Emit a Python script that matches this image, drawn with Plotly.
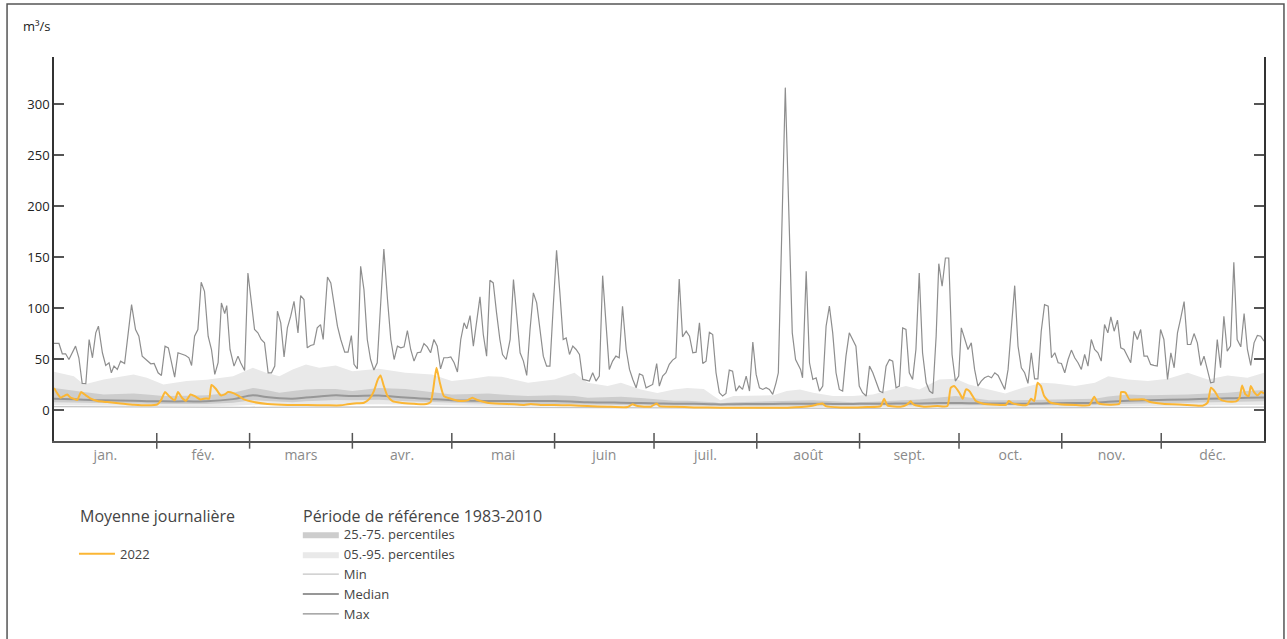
import plotly.graph_objects as go

# ---------------- data ----------------
month_names = ["jan.", "fév.", "mars", "avr.", "mai", "juin", "juil.", "août", "sept.", "oct.", "nov.", "déc."]
month_lengths = [31, 28, 31, 30, 31, 30, 31, 31, 30, 31, 30, 31]

# reference period 1983-2010 (day of year)
band_days = [0, 6, 9, 15, 24, 28, 33, 40, 46, 54, 60, 64, 68, 72, 76, 80, 85, 90, 98, 106, 114, 120,
             126, 131, 135, 143, 151, 157, 161, 167, 171, 177, 182, 187, 191, 196, 199, 201, 205, 211,
             217, 221, 225, 229, 235, 241, 247, 251, 257, 261, 267, 272, 276, 282, 287, 292, 298, 302,
             308, 314, 318, 324, 330, 336, 342, 348, 354, 360, 365]
p95 = [37.8, 33.5, 25.4, 30.3, 35.2, 32, 25.4, 28.7, 30, 33.5, 41.7, 36.8, 33.5, 40, 45, 41.7, 44, 38.4,
       40.7, 36.8, 35.2, 28.7, 31, 33.5, 33, 27, 30.3, 36.8, 27, 23.8, 27, 20.5, 17, 20.5, 22, 21, 14, 10,
       14, 14, 14.7, 18.9, 20.5, 17.3, 14, 14, 15.6, 18.9, 23.8, 20.5, 30.3, 31, 25.4, 20.5, 16.6, 22, 27,
       26.4, 23.8, 27, 33.5, 30.3, 28.7, 31, 36.8, 30.3, 34.2, 32, 36.8]
p75 = [22, 19, 18, 15.6, 16.6, 15.5, 14, 14.2, 14.7, 17.3, 22, 20, 17.3, 19, 20.5, 21, 21, 19, 22, 21, 18,
       15.6, 16, 16.6, 15.5, 14, 14.7, 14, 12.4, 12.8, 13.4, 12, 10.7, 9.5, 9.5, 9, 8, 7, 8, 8.5, 9, 9, 9.5,
       9.8, 9, 8, 8.5, 9, 10, 10.7, 12.5, 14, 12.5, 10, 9.8, 9.8, 10.3, 10.7, 11, 11.4, 13.5, 15.6, 14.7,
       15, 15.6, 16.5, 17.3, 19, 19.9]
median = [11.4, 10.8, 10.5, 9.8, 9.3, 9, 8.8, 8.8, 8.8, 11, 14.7, 13, 11.8, 11.4, 12.5, 13.5, 14.7, 14,
          14.5, 12.5, 11, 10, 9.5, 9.1, 9.1, 9.1, 9.1, 8.5, 8, 7.7, 7.5, 7.1, 6.8, 6.5, 6.5, 6.3, 6, 5.8, 6,
          6.2, 6.3, 6.5, 6.5, 6.5, 6.3, 6.3, 6.5, 6.5, 6.8, 6.8, 7.2, 7.2, 7, 6.8, 6.6, 6.5, 6.8, 7, 7.3,
          7.5, 8.5, 9.5, 10, 10.3, 10.7, 11.3, 11.8, 12.3, 12.6]
p25 = [8, 7.6, 7.4, 7, 6.6, 6.4, 6.2, 6.2, 6.2, 7.5, 10, 9.2, 8.3, 8, 8.8, 9.5, 10.2, 10, 10.5, 9, 8, 7.2,
       6.8, 6.5, 6.5, 6.4, 6.3, 6, 5.6, 5.4, 5.2, 5, 4.8, 4.6, 4.5, 4.4, 4.2, 4, 4.2, 4.3, 4.4, 4.5, 4.5,
       4.5, 4.4, 4.4, 4.5, 4.6, 4.8, 4.8, 5, 5, 4.9, 4.7, 4.6, 4.5, 4.7, 4.9, 5.1, 5.2, 6, 6.6, 7, 7.2,
       7.5, 7.9, 8.2, 8.6, 8.8]
p05 = [5, 4.8, 4.7, 4.5, 4.2, 4.1, 4, 4, 4, 4.5, 5.5, 5.3, 5, 4.9, 5.2, 5.5, 5.8, 5.8, 6, 5.5, 5, 4.6,
       4.4, 4.2, 4.2, 4.1, 4, 3.8, 3.6, 3.5, 3.4, 3.3, 3.2, 3.1, 3, 3, 2.9, 2.8, 2.9, 2.9, 3, 3, 3, 3, 3,
       3, 3, 3.1, 3.2, 3.2, 3.3, 3.3, 3.2, 3.1, 3.1, 3, 3.1, 3.2, 3.3, 3.4, 3.8, 4.1, 4.3, 4.4, 4.6, 4.8,
       5, 5.2, 5.3]

min_days = [0, 15, 31, 46, 59, 75, 90, 105, 120, 135, 151, 166, 181, 196, 212, 227, 243, 258, 273, 288,
            304, 319, 334, 349, 365]
min_vals = [3.6, 3.3, 3.0, 2.8, 3.0, 3.2, 3.4, 3.3, 3.0, 2.8, 2.6, 2.4, 2.2, 2.0, 1.9, 1.9, 1.9, 2.0, 2.1,
            2.1, 2.2, 2.4, 2.7, 3.0, 3.2]

max_days = [0.0, 1.5, 2.5, 3.5, 4.5, 5.5, 6.5, 7.5, 8.5, 9.6, 10.6, 11.6, 12.6, 13.4, 14.6, 15.6, 16.6,
            17.3, 18.1, 19.1, 20.1, 21.3, 22.3, 23.4, 24.6, 25.6, 26.6, 27.7, 29.2, 30.2, 31.4, 32.4, 33.5,
            34.5, 35.4, 36.4, 37.4, 38.7, 39.7, 40.7, 41.5, 42.4, 43.4, 44.4, 45.4, 46.5, 47.5, 48.5, 49.5,
            50.5, 51.5, 52.1, 53.1, 54.3, 55.5, 56.3, 57.5, 58.5, 59.5, 60.5, 61.5, 62.5, 63.5, 64.6, 65.6,
            66.6, 67.4, 68.4, 69.4, 70.4, 71.4, 72.4, 73.6, 74.4, 75.4, 76.4, 77.4, 78.4, 79.4, 80.4, 81.2,
            82.5, 83.5, 84.5, 85.5, 86.5, 87.7, 88.7, 89.7,
            90.5, 91.5, 92.5, 93.5, 94.5, 95.5, 96.5, 97.5, 98.5, 99.5, 100.6, 101.6, 102.6, 103.6, 104.6,
            105.6, 106.6, 107.6, 108.6, 109.6, 110.6, 111.6, 112.6, 113.6, 114.6, 115.6, 116.6, 117.6,
            118.7, 119.7, 120.7, 121.7, 122.7, 123.7, 124.5, 125.5, 126.5, 127.5, 128.5, 129.5, 130.5,
            131.5, 132.5, 133.5, 134.5, 135.3, 136.4, 137.6, 138.6, 139.6, 140.6, 141.6, 142.6, 143.6,
            144.6, 145.6, 146.6, 147.6, 148.6, 149.6, 150.6, 151.6, 152.6, 153.6, 154.5, 155.5, 156.5,
            157.5, 158.5, 159.5, 160.5, 161.5, 162.5, 163.5, 164.5, 165.5, 166.5, 167.5, 168.5, 169.5,
            170.5, 171.5, 172.6, 173.6, 174.6, 175.6, 176.6, 177.6, 178.6, 179.6, 180.6,
            181.8, 182.6, 183.6, 184.6, 185.6, 186.6, 187.6, 188.6, 189.6, 190.7, 191.7, 192.7, 193.7,
            194.7, 195.7, 196.7, 197.7, 198.7, 199.7, 200.7, 201.7, 202.7, 203.7, 204.7, 205.7, 206.7,
            207.7, 208.8, 209.8, 210.8, 211.8, 212.8, 213.8, 214.8, 215.8, 216.8, 217.8, 218.5, 220.6,
            222.7, 223.7, 225.2, 225.8, 226.9, 227.9, 228.9, 229.9, 230.9, 231.9, 232.9, 233.9, 234.9,
            235.9, 236.9, 237.9, 238.9, 239.9, 240.9, 241.9, 242.9, 243.9, 245.0, 246.0, 247.0, 248.0,
            249.0, 250.0, 251.0, 252.0, 253.0, 254.0, 255.0, 256.0, 257.0, 258.0, 259.0, 260.0, 261.0,
            262.0, 263.1, 264.1, 265.1, 266.1, 266.9, 267.9, 268.9, 269.9, 270.9, 271.9,
            272.9, 273.7, 274.7, 275.7, 276.7, 277.7, 278.7, 279.7, 280.7, 281.8, 282.8, 283.8, 284.8,
            285.8, 286.8, 287.8, 288.8, 289.8, 290.8, 291.8, 292.8, 293.8, 294.8, 295.8, 296.8, 297.8,
            298.8, 299.9, 300.9, 301.9, 302.9, 303.9, 304.9, 305.9, 306.9, 307.9, 308.9, 309.9, 310.9,
            311.9, 312.9, 313.9, 314.9, 315.9, 316.9, 317.9, 318.8, 319.8, 320.8, 321.8, 322.8, 323.8,
            324.8, 325.8, 326.8, 327.8, 328.8, 329.8, 330.8, 331.8, 332.8, 333.8, 334.8, 335.9, 336.9,
            337.9, 338.9, 339.9, 340.9, 341.9, 342.9, 343.9, 344.9, 345.9, 346.9, 347.9, 348.9, 349.9,
            350.9, 351.9, 352.9, 353.9, 354.9, 355.9, 356.9, 358.0, 359.0, 360.0, 361.0, 362.0, 363.0,
            364.0, 365.0]
max_vals = [65.5, 65.5, 55.4, 55.4, 49.8, 56.4, 62.9, 51.5, 26.4, 26.1, 69.4, 51.5, 75.9, 82.4, 56.4, 44.0,
            46.6, 36.8, 43.3, 40.1, 48.2, 45.9, 75.9, 103.6, 79.2, 72.6, 53.1, 49.8, 45.6, 45.9, 36.8, 34.2,
            62.9, 61.2, 46.6, 32.6, 56.4, 54.7, 53.7, 51.5, 44.0, 72.6, 79.2, 125.4, 116.6, 72.6, 59.6, 35.2,
            46.6, 105.2, 94.8, 102.6, 59.6, 43.3, 53.1, 46.6, 39.1, 134.5, 108.5, 79.2, 75.9, 69.4, 66.1,
            36.8, 36.8, 43.3, 97.1, 85.7, 52.4, 80.8, 92.2, 106.8, 75.9, 112.4, 108.5, 61.2, 63.5, 64.5,
            80.8, 84.0, 69.4, 130.6, 124.8, 105.2, 82.4, 69.4, 57.0, 57.0, 73.3,
            45.0, 40.7, 141.0, 118.2, 69.4, 49.8, 39.4, 46.6, 102.0, 158.0, 108.5, 69.4, 49.8, 62.9, 61.2,
            62.2, 78.2, 59.6, 48.2, 56.4, 57.0, 65.5, 62.2, 56.4, 69.4, 62.9, 40.7, 51.5, 51.5, 52.4, 46.6,
            37.5, 69.4, 85.7, 79.8, 92.8, 62.9, 88.9, 111.1, 74.3, 53.1, 127.4, 124.8, 95.4, 69.4, 54.7,
            49.8, 69.4, 128.0, 92.2, 56.4, 48.2, 34.2, 79.2, 115.0, 105.2, 75.9, 53.1, 43.3, 43.3, 102.0,
            156.7, 115.0, 69.4, 71.0, 54.7, 62.9, 59.6, 54.7, 30.3, 29.6, 28.7, 36.8, 28.7, 33.6, 131.9,
            85.7, 40.1, 48.2, 53.1, 51.5, 102.0, 59.6, 40.1, 30.3, 22.1, 35.8, 34.2, 22.1, 23.8, 25.4,
            45.9, 23.8, 33.6, 36.8, 45.0, 49.2, 51.5, 128.7, 72.0, 77.5, 72.6, 56.4, 57.0, 85.7, 45.9, 48.2,
            76.5, 74.3, 36.8, 17.3, 14.0, 16.6, 39.4, 38.4, 18.9, 23.8, 20.5, 33.6, 18.9, 66.8, 35.2, 22.1,
            20.5, 22.1, 20.5, 15.6, 27.0, 36.8, 316.0, 75.9, 49.8, 40.1, 31.9, 136.2, 46.6, 30.3, 31.9,
            18.9, 23.8, 82.4, 102.0, 75.9, 36.8, 20.5, 18.9, 53.1, 75.9, 69.4, 62.9, 23.8, 17.3, 14.0, 43.3,
            36.8, 28.7, 18.9, 17.3, 43.3, 49.8, 48.2, 22.1, 23.8, 80.8, 79.2, 36.8, 30.3, 59.6, 134.5, 56.4,
            27.0, 18.9, 16.6, 72.6, 143.6, 121.5, 149.2, 149.2, 54.7, 28.7,
            33.6, 80.8, 71.0, 59.6, 66.1, 40.1, 23.8, 28.7, 31.9, 33.6, 31.9, 36.8, 34.2, 27.0, 20.5, 40.1,
            82.4, 122.1, 62.9, 41.7, 36.8, 26.4, 56.4, 30.9, 30.9, 77.5, 103.6, 102.0, 51.5, 56.4, 46.6,
            45.9, 36.8, 49.8, 59.0, 51.5, 46.6, 40.1, 54.7, 43.3, 69.4, 59.6, 56.4, 48.2, 84.0, 75.9, 91.5,
            77.5, 88.3, 61.2, 59.6, 53.1, 46.6, 77.5, 69.4, 79.2, 53.1, 53.1, 45.0, 44.0, 43.3, 79.2, 69.4,
            30.3, 56.4, 41.7, 75.9, 90.6, 106.5, 64.5, 64.5, 75.2, 66.1, 44.0, 53.1, 40.1, 27.0, 27.7, 69.4,
            41.7, 92.2, 58.0, 62.9, 145.0, 69.4, 62.2, 94.8, 59.6, 44.0, 66.1, 73.3, 72.6, 67.8]

# daily mean 2022
y2022_days = [0, 1, 2, 3, 4, 5, 6, 7, 8.2, 9.6, 11.1, 13.1, 16.1, 20.1, 24.1, 28.2, 31.2, 32.4, 33.5, 34.7,
              36.4, 37.4, 38.6, 39.8, 41.2, 42.7, 44.2, 45.8, 46.8, 47.5, 48.8, 50.3, 51.5, 52.5, 54.3,
              55.8, 57.3, 60.3, 64.4, 70.4, 76.4, 82.5, 86.5, 88.5,
              90.5, 93.5, 95, 96.5, 97.7, 98.5, 99.5, 100.6, 102.1, 104.6, 108.6, 111.6, 113.6, 114.8,
              115.4, 116.4, 117.6, 119.7, 122.7, 124.7, 126.2, 127.7, 130.7, 134.7, 138.8, 141.8, 143.8,
              146.8, 150.8, 155.9, 160.9, 166.9, 173, 174.5, 176, 180,
              181.8, 182.6, 187, 193.1, 201.1, 211.2, 221.2, 228.3, 230.3, 231.8, 232.8, 237.3, 242.3,
              245.4, 249.4, 250.4, 251.4, 255.4, 257.4, 258.4, 259.4, 262.4, 266.5, 269.5, 270.5, 271.5,
              273.1, 274.1, 275.1, 276.1, 277.1, 278.1, 280.1, 284.2, 287.2, 288, 289.2, 292.2, 293.7,
              294.7, 295.7, 296.7, 297.7, 298.7, 300.3, 303.3, 308.3, 312.3, 313.8, 314.8, 316.3, 321.4,
              321.9, 323.2, 324.4, 326.4, 328.9, 330.4, 334.4, 340.5, 346.5, 348, 349, 350.3, 351.5,
              353.5, 356.6, 357.6, 358.4, 359.4, 360.4, 361, 362, 363.1, 364.1, 365]
y2022_vals = [22, 16.6, 12.4, 14, 15.6, 12.4, 11.4, 10.1, 17.9, 14.7, 11.4, 9.1, 8.1, 6.8, 5.5, 4.9, 5.9,
              10.7, 17.9, 14, 9.8, 17.9, 12.4, 9.4, 15.6, 13.4, 10.7, 11.7, 11.4, 24.8, 21.2, 14.7, 15.6,
              17.9, 16.6, 14, 10.7, 8.1, 6.2, 5.2, 5.2, 4.9, 4.9, 5.9,
              6.8, 7.5, 10.7, 18.9, 30.3, 34.2, 23.8, 14, 9.1, 7.5, 6.5, 5.9, 8.1, 30.3, 41.7, 27, 14, 11.4,
              9.1, 9.8, 12.4, 10.1, 7.5, 6.5, 5.9, 5.2, 6.2, 5.2, 5.2, 4.9, 4.2, 3.6, 3.3, 5.9, 4.2, 3.6,
              6.8, 4.2, 3.6, 2.9, 2.6, 2.6, 2.6, 4.2, 5.9, 6.8, 4.2, 2.9, 2.9, 3.3, 4.2, 11.4, 4.9, 3.6,
              5.9, 8.8, 5.5, 3.6, 4.2, 4.2, 22.1, 23.8,
              17.3, 11.4, 20.5, 18.9, 14, 9.1, 6.8, 5.5, 5.5, 9.1, 6.8, 4.9, 5.9, 11.4, 9.1, 27, 23.8, 14,
              8.1, 5.9, 5.2, 5.2, 13.4, 7.5, 5.9, 6.5, 17.9, 17.3, 10.7, 10.7, 10.7, 8.5, 6.5, 5.5, 4.6,
              7.5, 22.1, 17.9, 11.4, 8.8, 8.8, 12.4, 24.4, 15.6, 14, 23.8, 17.9, 14.7, 17.9, 16.6]

y_ticks = [0, 50, 100, 150, 200, 250, 300]

# ---------------- styles ----------------
FONT = "Open Sans"
C_LIGHT = "#e9e9e9"
C_DARK = "#cdcdcd"
C_MED = "#979797"
C_MIN = "#c4c4c4"
C_MAX = "#8e8e8e"
C_ORANGE = "#fbb634"

month_starts = [sum(month_lengths[:i]) for i in range(len(month_lengths) + 1)]
month_mids = [(month_starts[i] + month_starts[i + 1]) / 2 for i in range(len(month_lengths))]

fig = go.Figure()

# 05-95 band
fig.add_trace(go.Scatter(x=band_days, y=p05, mode="lines", line=dict(width=0, color=C_LIGHT),
                         showlegend=False, hoverinfo="skip", legend="legend2"))
fig.add_trace(go.Scatter(x=band_days, y=p95, mode="lines", line=dict(width=0, color=C_LIGHT),
                         fill="tonexty", fillcolor=C_LIGHT, name="05.-95. percentiles",
                         legend="legend2", legendrank=2))
# 25-75 band
fig.add_trace(go.Scatter(x=band_days, y=p25, mode="lines", line=dict(width=0, color=C_DARK),
                         showlegend=False, hoverinfo="skip", legend="legend2"))
fig.add_trace(go.Scatter(x=band_days, y=p75, mode="lines", line=dict(width=0, color=C_DARK),
                         fill="tonexty", fillcolor=C_DARK, name="25.-75. percentiles",
                         legend="legend2", legendrank=1))
fig.add_trace(go.Scatter(x=min_days, y=min_vals, mode="lines", line=dict(width=1.3, color=C_MIN),
                         name="Min", legend="legend2", legendrank=3))
fig.add_trace(go.Scatter(x=band_days, y=median, mode="lines", line=dict(width=2, color=C_MED, shape="spline"),
                         name="Median", legend="legend2", legendrank=4))
fig.add_trace(go.Scatter(x=max_days, y=max_vals, mode="lines", line=dict(width=1.2, color=C_MAX),
                         name="Max", legend="legend2", legendrank=5))
fig.add_trace(go.Scatter(x=y2022_days, y=y2022_vals, mode="lines",
                         line=dict(width=2, color=C_ORANGE, shape="spline", smoothing=0.5),
                         name="2022", legend="legend"))

shapes = []
for d in month_starts[1:-1]:
    shapes.append(dict(type="line", xref="x", yref="paper", x0=d, x1=d, y0=-0.02, y1=0.021,
                       line=dict(color="#555555", width=1.5)))
# outer frame
shapes.append(dict(type="rect", xref="paper", yref="paper", x0=-0.0388, x1=1.0165, y0=-0.56, y1=1.138,
                   line=dict(color="#555555", width=1.5), fillcolor="rgba(0,0,0,0)", layer="below"))

annotations = [
    dict(text="m³/s", xref="paper", yref="paper", x=-0.027, y=1.081, xanchor="left", yanchor="middle",
         showarrow=False, font=dict(family=FONT, size=13, color="#222222")),
    dict(text="Moyenne journalière", xref="paper", yref="paper", x=0.0195, y=-0.1956, xanchor="left",
         yanchor="middle", showarrow=False, font=dict(family=FONT, size=16, color="#444444")),
    dict(text="Période de référence 1983-2010", xref="paper", yref="paper", x=0.2045, y=-0.1956,
         xanchor="left", yanchor="middle", showarrow=False, font=dict(family=FONT, size=16, color="#444444")),
]

fig.update_layout(
    width=1287, height=639,
    margin=dict(l=54, r=23, t=57, b=198, autoexpand=False),
    paper_bgcolor="white", plot_bgcolor="white",
    font=dict(family=FONT, size=12, color="#333333"),
    xaxis=dict(range=[0, 365], tickvals=month_mids, ticktext=month_names, ticks="", ticklen=0,
               showgrid=False, zeroline=False, showline=True, linecolor="#555555", linewidth=1.5,
               tickfont=dict(family=FONT, size=14, color="#8a8a8a"), fixedrange=True, automargin=False),
    yaxis=dict(range=[-30, 346], tickvals=y_ticks, ticks="inside", ticklen=10, tickcolor="#555555",
               tickwidth=1.5, showgrid=False, zeroline=False, showline=True, linecolor="#333333",
               linewidth=1.5, mirror="ticks", tickfont=dict(family=FONT, size=13, color="#222222"),
               fixedrange=True, automargin=False),
    shapes=shapes,
    annotations=annotations,
    legend=dict(x=0.0165, y=-0.255, xanchor="left", yanchor="top", bgcolor="rgba(0,0,0,0)",
                font=dict(family=FONT, size=13, color="#444444"), itemwidth=36),
    legend2=dict(x=0.2015, y=-0.204, xanchor="left", yanchor="top", bgcolor="rgba(0,0,0,0)",
                 font=dict(family=FONT, size=13, color="#444444"), itemwidth=36,
                 traceorder="normal"),
    showlegend=True,
)

fig.write_html("out.html", post_script="document.body.style.margin='0';",
               config={"displayModeBar": False})
